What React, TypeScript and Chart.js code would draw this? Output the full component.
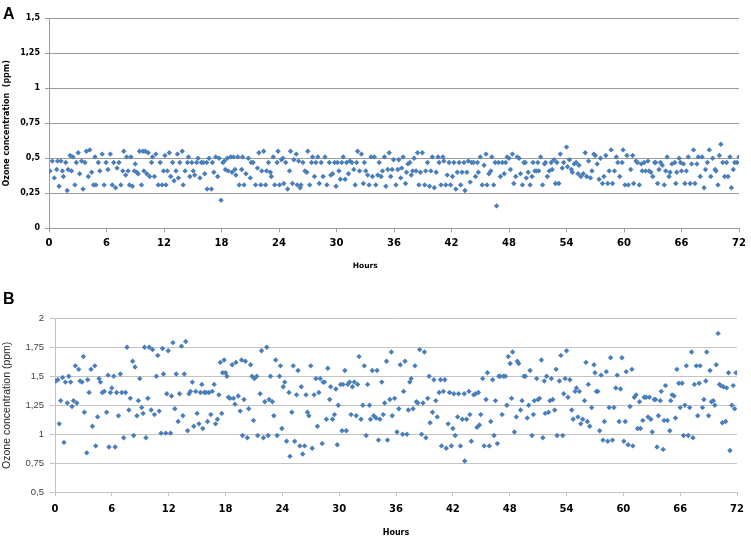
import React, { useEffect, useRef } from "react";
import { Chart, registerables } from "chart.js";

Chart.register(...registerables);

// ---------- Panel A (hours / ozone ppm) ----------
const hoursA1 = [
  0.1, 0.35, 0.55, 0.8, 0.9, 1.05, 1.25, 1.4, 1.5, 1.75,
  1.9, 2.0, 2.2, 2.35, 2.5, 2.7, 2.85, 3.05, 3.2, 3.4,
  3.55, 3.75, 3.9, 4.1, 4.25, 4.45, 4.65, 4.8, 4.9, 5.15,
  5.3, 5.55, 5.75, 5.95, 6.15, 6.4, 6.6, 6.75, 6.95, 7.1,
  7.3, 7.5, 7.7, 7.8, 8.0, 8.1, 8.25, 8.4, 8.55, 8.7,
  8.9, 9.0, 9.15, 9.3, 9.45, 9.65, 9.8, 9.9, 10.05, 10.2,
  10.35, 10.5, 10.7, 10.8, 11.0, 11.15, 11.4, 11.6, 11.8, 11.95,
  12.1, 12.2, 12.35, 12.55, 12.7, 12.9, 13.05, 13.25, 13.4, 13.5,
  13.65, 13.9, 14.0, 14.2, 14.45, 14.55, 14.7, 14.9, 15.05, 15.2,
  15.4, 15.55, 15.75, 15.9, 16.1, 16.25, 16.45, 16.5, 16.7, 16.95,
  17.05, 17.2, 17.4, 17.6, 17.75, 17.95, 18.15,
];
const ozoneA1 = [
  0.41, 0.48, 0.36, 0.42, 0.48, 0.30, 0.48, 0.41, 0.37, 0.47,
  0.27, 0.42, 0.52, 0.41, 0.51, 0.31, 0.47, 0.54, 0.39, 0.48,
  0.28, 0.47, 0.55, 0.37, 0.56, 0.40, 0.31, 0.51, 0.31, 0.47,
  0.41, 0.53, 0.31, 0.47, 0.42, 0.53, 0.31, 0.47, 0.29, 0.43,
  0.47, 0.31, 0.41, 0.55, 0.38, 0.51, 0.41, 0.31, 0.51, 0.30,
  0.41, 0.46, 0.40, 0.39, 0.55, 0.31, 0.55, 0.41, 0.55, 0.39,
  0.54, 0.37, 0.47, 0.51, 0.37, 0.53, 0.31, 0.47, 0.31, 0.41,
  0.52, 0.31, 0.41, 0.54, 0.37, 0.47, 0.34, 0.41, 0.53, 0.36,
  0.47, 0.55, 0.31, 0.41, 0.47, 0.51, 0.37, 0.47, 0.41, 0.38,
  0.47, 0.50, 0.36, 0.47, 0.47, 0.39, 0.47, 0.28, 0.50, 0.28,
  0.47, 0.40, 0.51, 0.37, 0.50, 0.20, 0.47,
];
const hoursA2 = [
  18.3, 18.4, 18.6, 18.7, 18.95, 19.1, 19.25, 19.4, 19.5, 19.7,
  19.85, 20.1, 20.2, 20.35, 20.55, 20.8, 21.0, 21.1, 21.3, 21.55,
  21.75, 21.9, 22.1, 22.2, 22.4, 22.6, 22.7, 22.9, 23.1, 23.2,
  23.4, 23.55, 23.8, 23.9, 24.05, 24.25, 24.4, 24.5, 24.7, 24.9,
  25.1, 25.2, 25.4, 25.55, 25.8, 25.9, 26.05, 26.2, 26.3, 26.5,
  26.7, 26.9, 27.0, 27.2, 27.4, 27.5, 27.7, 27.85, 28.05, 28.2,
  28.4, 28.6, 28.8, 29.0, 29.25, 29.4, 29.6, 29.8, 29.95, 30.1,
  30.25, 30.4, 30.55, 30.7, 30.9, 31.05, 31.25, 31.4, 31.6, 31.8,
  31.95, 32.1, 32.2, 32.4, 32.6, 32.8, 32.9, 33.05, 33.25, 33.4,
  33.6, 33.75, 33.95, 34.1, 34.3, 34.45, 34.65, 34.8, 35.0, 35.15,
  35.35, 35.5, 35.65, 35.8, 35.95, 36.2, 36.4,
];
const ozoneA2 = [
  0.48, 0.42, 0.50, 0.41, 0.51, 0.40, 0.51, 0.42, 0.38, 0.51,
  0.31, 0.42, 0.51, 0.31, 0.39, 0.50, 0.36, 0.47, 0.47, 0.31,
  0.43, 0.54, 0.31, 0.41, 0.55, 0.31, 0.41, 0.47, 0.40, 0.37,
  0.51, 0.31, 0.47, 0.55, 0.31, 0.49, 0.50, 0.32, 0.47, 0.28,
  0.41, 0.55, 0.32, 0.49, 0.53, 0.31, 0.48, 0.29, 0.31, 0.47,
  0.41, 0.40, 0.55, 0.31, 0.47, 0.51, 0.37, 0.47, 0.51, 0.32,
  0.47, 0.37, 0.51, 0.31, 0.47, 0.38, 0.39, 0.47, 0.30, 0.47,
  0.41, 0.35, 0.47, 0.51, 0.35, 0.47, 0.39, 0.48, 0.47, 0.42,
  0.31, 0.47, 0.55, 0.41, 0.53, 0.32, 0.47, 0.41, 0.38, 0.31,
  0.51, 0.37, 0.51, 0.31, 0.38, 0.47, 0.37, 0.41, 0.51, 0.30,
  0.42, 0.54, 0.37, 0.42, 0.49, 0.31, 0.42,
];
const hoursA3 = [
  36.5, 36.7, 36.8, 36.95, 37.2, 37.3, 37.45, 37.65, 37.8, 37.95,
  38.1, 38.3, 38.45, 38.6, 38.75, 38.95, 39.2, 39.3, 39.5, 39.7,
  39.85, 40.0, 40.2, 40.4, 40.6, 40.7, 40.9, 41.1, 41.2, 41.4,
  41.55, 41.75, 41.9, 42.1, 42.25, 42.45, 42.6, 42.8, 42.95, 43.1,
  43.3, 43.4, 43.6, 43.75, 43.95, 44.1, 44.3, 44.5, 44.7, 44.8,
  45.0, 45.2, 45.4, 45.6, 45.7, 45.9, 46.1, 46.2, 46.4, 46.55,
  46.7, 46.9, 47.1, 47.3, 47.5, 47.65, 47.8, 48.0, 48.15, 48.35,
  48.5, 48.7, 48.85, 49.05, 49.2, 49.4, 49.55, 49.7, 49.8, 50.0,
  50.2, 50.4, 50.5, 50.7, 50.85, 51.0, 51.1, 51.3, 51.5, 51.7,
  51.8, 52.0, 52.2, 52.4, 52.5, 52.7, 52.85, 53.0, 53.2, 53.35,
  53.55, 53.7, 54.0, 54.1, 54.3, 54.5,
];
const ozoneA3 = [
  0.49, 0.36, 0.43, 0.51, 0.32, 0.40, 0.46, 0.47, 0.38, 0.41,
  0.50, 0.41, 0.54, 0.31, 0.40, 0.54, 0.31, 0.41, 0.47, 0.30,
  0.41, 0.51, 0.29, 0.40, 0.51, 0.47, 0.31, 0.51, 0.48, 0.31,
  0.38, 0.47, 0.31, 0.37, 0.47, 0.28, 0.40, 0.47, 0.31, 0.40,
  0.47, 0.27, 0.40, 0.48, 0.33, 0.47, 0.47, 0.37, 0.47, 0.40,
  0.51, 0.31, 0.45, 0.53, 0.31, 0.39, 0.41, 0.51, 0.31, 0.47,
  0.16, 0.47, 0.37, 0.47, 0.39, 0.47, 0.51, 0.50, 0.42, 0.53,
  0.32, 0.37, 0.51, 0.50, 0.39, 0.31, 0.47, 0.47, 0.36, 0.40,
  0.31, 0.37, 0.47, 0.41, 0.41, 0.47, 0.41, 0.51, 0.31, 0.46,
  0.47, 0.37, 0.41, 0.47, 0.42, 0.49, 0.32, 0.47, 0.32, 0.53,
  0.43, 0.47, 0.58, 0.44, 0.49, 0.42,
];
const hoursA4 = [
  54.6, 54.8, 55.0, 55.2, 55.3, 55.5, 55.75, 55.95, 56.1, 56.3,
  56.5, 56.65, 56.85, 57.0, 57.2, 57.4, 57.55, 57.75, 57.9, 58.1,
  58.3, 58.45, 58.65, 58.8, 59.0, 59.2, 59.35, 59.55, 59.8, 59.9,
  60.1, 60.3, 60.45, 60.7, 60.9, 61.0, 61.25, 61.4, 61.6, 61.8,
  61.9, 62.1, 62.25, 62.5, 62.6, 62.8, 63.0, 63.2, 63.3, 63.5,
  63.65, 63.8, 64.0, 64.2, 64.35, 64.5, 64.7, 64.8, 65.0, 65.3,
  65.4, 65.5, 65.75, 65.9, 66.0, 66.2, 66.35, 66.5, 66.7, 66.9,
  67.05, 67.25, 67.4, 67.6, 67.75, 67.95, 68.15, 68.35, 68.5, 68.7,
  68.9, 69.05, 69.25, 69.5, 69.6, 69.8, 69.95, 70.1, 70.3, 70.5,
  70.7, 70.85, 71.05, 71.2, 71.4, 71.55, 71.8, 72.0,
];
const ozoneA4 = [
  0.40, 0.46, 0.47, 0.39, 0.45, 0.37, 0.39, 0.54, 0.37, 0.48,
  0.36, 0.41, 0.53, 0.52, 0.46, 0.35, 0.50, 0.32, 0.37, 0.52,
  0.32, 0.41, 0.56, 0.32, 0.41, 0.51, 0.47, 0.37, 0.47, 0.56,
  0.31, 0.52, 0.31, 0.42, 0.52, 0.32, 0.48, 0.47, 0.31, 0.46,
  0.41, 0.47, 0.41, 0.48, 0.41, 0.40, 0.37, 0.47, 0.47, 0.32,
  0.42, 0.47, 0.45, 0.31, 0.41, 0.51, 0.37, 0.40, 0.46, 0.47,
  0.32, 0.40, 0.50, 0.47, 0.41, 0.46, 0.32, 0.41, 0.51, 0.32,
  0.46, 0.56, 0.32, 0.46, 0.51, 0.37, 0.51, 0.29, 0.42, 0.47,
  0.56, 0.37, 0.50, 0.42, 0.41, 0.31, 0.52, 0.60, 0.47, 0.37,
  0.47, 0.37, 0.51, 0.29, 0.42, 0.47, 0.47, 0.51,
];

// ---------- Panel B (hours / ozone ppm) ----------
const hoursB1 = [
  0.1, 0.3, 0.45, 0.6, 0.8, 0.95, 1.1, 1.3, 1.45, 1.65,
  1.8, 1.95, 2.15, 2.3, 2.5, 2.65, 2.85, 3.0, 3.1, 3.35,
  3.45, 3.6, 3.8, 3.95, 4.2, 4.3, 4.5, 4.65, 4.8, 5.0,
  5.2, 5.45, 5.6, 5.7, 5.85, 6.0, 6.2, 6.35, 6.5, 6.7,
  6.9, 7.05, 7.25, 7.45, 7.6, 7.8, 7.95, 8.2, 8.3, 8.45,
  8.65, 8.8, 8.95, 9.15, 9.3, 9.45, 9.6, 9.8, 9.95, 10.15,
  10.3, 10.5, 10.7, 10.85, 11.0, 11.2, 11.35, 11.45, 11.7, 11.8,
  11.95, 12.2, 12.3, 12.45, 12.65, 12.8, 13.0, 13.15, 13.35, 13.5,
  13.65, 13.8, 14.0, 14.15, 14.3, 14.5, 14.65, 14.85, 15.0, 15.2,
  15.35, 15.5, 15.6, 15.75, 15.95, 16.1, 16.25, 16.45, 16.6, 16.8,
  16.95, 17.15, 17.3, 17.45, 17.6, 17.7, 17.85,
];
const ozoneB1 = [
  1.46, 1.47, 1.09, 1.29, 1.49, 0.93, 1.45, 1.27, 1.50, 1.45,
  1.24, 1.29, 1.59, 1.27, 1.56, 1.46, 1.45, 1.67, 1.19, 0.84,
  1.47, 1.36, 1.56, 1.07, 1.59, 0.90, 1.15, 1.48, 1.45, 1.36,
  1.37, 1.19, 1.51, 0.89, 1.36, 1.40, 1.50, 0.89, 1.36, 1.16,
  1.52, 1.36, 0.97, 1.36, 1.75, 1.21, 1.31, 1.63, 0.99, 1.58,
  1.16, 1.29, 1.48, 1.23, 1.18, 1.75, 0.97, 1.31, 1.75, 1.21,
  1.73, 1.17, 1.50, 1.68, 1.20, 1.01, 1.74, 1.52, 1.01, 1.35,
  1.72, 1.01, 1.33, 1.79, 1.22, 1.52, 1.11, 1.35, 1.76, 1.16,
  1.52, 1.80, 1.03, 1.35, 1.37, 1.45, 1.07, 1.37, 1.18, 1.09,
  1.36, 1.43, 1.05, 1.36, 1.36, 1.11, 1.36, 1.17, 1.37, 1.43,
  1.09, 1.13, 1.34, 1.62, 1.18, 1.53, 1.64,
];
const hoursB2 = [
  18.0, 18.15, 18.3, 18.5, 18.7, 18.85, 19.0, 19.1, 19.35, 19.55,
  19.7, 19.8, 19.95, 20.1, 20.3, 20.45, 20.65, 20.8, 20.95, 21.05,
  21.3, 21.4, 21.65, 21.8, 22.0, 22.15, 22.35, 22.5, 22.6, 22.75,
  22.95, 23.1, 23.3, 23.45, 23.7, 23.8, 23.95, 24.1, 24.25, 24.45,
  24.7, 24.8, 25.0, 25.15, 25.3, 25.5, 25.65, 25.85, 26.0, 26.15,
  26.35, 26.5, 26.65, 26.8, 27.0, 27.15, 27.35, 27.55, 27.7, 27.85,
  28.0, 28.2, 28.3, 28.45, 28.65, 28.8, 29.0, 29.1, 29.3, 29.5,
  29.65, 29.8, 29.9, 30.15, 30.3, 30.4, 30.6, 30.75, 30.9, 31.1,
  31.25, 31.4, 31.6, 31.8, 31.95, 32.1, 32.3, 32.5, 32.65, 32.85,
  33.0, 33.2, 33.3, 33.5, 33.65, 33.9, 34.0, 34.15, 34.3, 34.5,
  34.65, 34.8, 35.0, 35.1, 35.35, 35.5, 35.6, 35.85,
];
const ozoneB2 = [
  1.53, 1.50, 1.32, 1.31, 1.60, 1.31, 1.26, 1.62, 1.33, 1.20,
  1.64, 0.99, 1.30, 1.63, 0.97, 1.22, 1.60, 1.50, 1.12, 1.48,
  1.50, 0.99, 1.35, 1.72, 0.97, 1.28, 1.75, 0.99, 1.30, 1.50,
  1.28, 1.16, 1.64, 0.99, 1.50, 1.59, 1.05, 1.41, 1.45, 0.94,
  1.36, 0.81, 1.19, 1.59, 0.94, 1.34, 1.55, 0.90, 1.41, 0.83,
  0.90, 1.34, 1.19, 1.16, 1.59, 0.88, 1.34, 1.48, 1.07, 1.36,
  1.48, 0.92, 1.45, 1.45, 1.13, 1.57, 1.30, 1.41, 1.13, 1.17,
  1.39, 0.91, 1.25, 1.43, 1.03, 1.43, 1.55, 1.03, 1.43, 1.45,
  1.17, 1.41, 1.45, 1.16, 1.43, 1.67, 1.13, 1.25, 1.59, 0.99,
  1.43, 1.25, 1.13, 1.55, 1.16, 1.14, 1.55, 0.95, 1.13, 1.45,
  1.17, 1.27, 1.63, 0.95, 1.30, 1.71, 1.16, 1.31,
];
const hoursB3 = [
  36.1, 36.3, 36.45, 36.7, 36.8, 36.95, 37.15, 37.3, 37.45, 37.6,
  37.8, 38.0, 38.15, 38.3, 38.5, 38.7, 38.85, 39.0, 39.15, 39.35,
  39.5, 39.6, 39.85, 40.0, 40.2, 40.35, 40.55, 40.7, 40.8, 41.0,
  41.15, 41.3, 41.5, 41.65, 41.85, 42.0, 42.1, 42.25, 42.5, 42.6,
  42.8, 43.0, 43.2, 43.25, 43.45, 43.7, 43.8, 43.95, 44.2, 44.4,
  44.55, 44.7, 44.8, 44.95, 45.15, 45.3, 45.5, 45.65, 45.85, 46.0,
  46.2, 46.35, 46.5, 46.7, 46.85, 47.0, 47.2, 47.35, 47.55, 47.7,
  47.85, 48.05, 48.2, 48.3, 48.5, 48.7, 48.8, 48.95, 49.15, 49.3,
  49.5, 49.65, 49.85, 50.0, 50.15, 50.35, 50.5, 50.6, 50.85, 51.0,
  51.15, 51.35, 51.5, 51.65, 51.75, 51.9, 52.1, 52.25, 52.4, 52.55,
  52.75, 52.9, 53.0, 53.25, 53.4, 53.6, 53.7, 53.85, 54.0,
];
const ozoneB3 = [
  1.02, 1.22, 1.60, 1.00, 1.37, 1.63, 1.00, 1.21, 1.45, 1.48,
  1.22, 1.59, 1.28, 1.27, 1.73, 1.00, 1.27, 1.71, 0.97, 1.31,
  1.50, 1.10, 1.19, 1.47, 1.29, 1.15, 1.36, 1.47, 0.90, 1.37,
  1.47, 0.88, 1.09, 1.36, 0.90, 1.05, 1.35, 0.99, 1.15, 1.35,
  0.90, 1.13, 1.35, 0.77, 1.13, 1.37, 1.17, 0.94, 1.34, 1.35,
  1.06, 1.36, 1.08, 1.17, 1.48, 0.90, 1.30, 1.53, 0.90, 1.11,
  1.47, 0.99, 1.29, 0.92, 1.50, 1.50, 1.17, 1.50, 1.50, 1.25,
  1.67, 1.61, 1.31, 1.71, 1.02, 1.15, 1.63, 1.61, 1.21, 1.29,
  1.50, 1.50, 1.14, 1.25, 1.55, 0.99, 1.17, 1.29, 1.48, 1.30,
  1.31, 1.64, 0.97, 1.46, 1.18, 1.50, 1.19, 1.29, 1.48, 1.30,
  1.21, 1.56, 0.99, 1.46, 1.68, 0.99, 1.35, 1.48, 1.72,
];
const hoursB4 = [
  54.15, 54.35, 54.55, 54.7, 54.9, 55.05, 55.2, 55.35, 55.5, 55.7,
  55.9, 56.05, 56.2, 56.3, 56.45, 56.65, 56.9, 57.0, 57.15, 57.3,
  57.5, 57.65, 57.85, 58.0, 58.2, 58.35, 58.5, 58.65, 58.85, 59.0,
  59.2, 59.35, 59.55, 59.7, 59.85, 60.05, 60.2, 60.3, 60.5, 60.7,
  60.9, 61.0, 61.15, 61.35, 61.5, 61.7, 61.8, 62.05, 62.2, 62.4,
  62.6, 62.75, 62.9, 63.05, 63.25, 63.4, 63.55, 63.7, 63.9, 64.0,
  64.2, 64.3, 64.45, 64.65, 64.9, 65.0, 65.15, 65.35, 65.5, 65.65,
  65.85, 66.0, 66.2, 66.35, 66.5, 66.65, 66.85, 67.0, 67.2, 67.35,
  67.5, 67.7, 67.85, 68.0, 68.1, 68.35, 68.5, 68.7, 68.8, 69.0,
  69.15, 69.3, 69.5, 69.65, 69.8, 70.0, 70.15, 70.3, 70.45, 70.55,
  70.8, 70.9, 71.1, 71.25, 71.45, 71.6, 71.75, 71.9,
];
const ozoneB4 = [
  1.32, 1.47, 1.21, 1.13, 1.37, 1.40, 1.15, 1.37, 1.09, 1.13,
  1.29, 1.62, 1.11, 1.43, 1.07, 1.23, 1.60, 1.53, 1.37, 1.37,
  1.03, 1.51, 0.95, 1.11, 1.54, 0.94, 1.23, 1.66, 0.95, 1.23,
  1.40, 1.51, 1.11, 1.39, 1.66, 0.94, 1.11, 1.54, 0.91, 1.24,
  1.56, 0.90, 1.32, 1.34, 1.05, 1.28, 1.05, 1.12, 1.32, 1.32,
  1.15, 1.32, 1.13, 1.02, 1.30, 1.30, 0.89, 1.16, 1.29, 1.37,
  0.87, 1.12, 1.42, 1.12, 1.03, 1.29, 1.34, 1.33, 1.14, 1.56,
  1.44, 1.23, 1.44, 0.99, 1.25, 1.59, 0.99, 1.23, 1.71, 0.97,
  1.43, 1.59, 1.16, 1.44, 1.59, 1.23, 1.30, 1.46, 1.71, 1.16,
  1.55, 1.28, 1.29, 1.25, 1.60, 1.87, 1.43, 1.42, 1.10, 1.41,
  1.11, 1.40, 1.53, 0.86, 1.25, 1.42, 1.22, 1.53,
];

// ---------- Axis ticks ----------
const hourTicks = [0, 6, 12, 18, 24, 30, 36, 42, 48, 54, 60, 66, 72];
const ozoneTicksA = [0, 0.25, 0.5, 0.75, 1, 1.25, 1.5];
const ozoneTicksB = [0.5, 0.75, 1, 1.25, 1.5, 1.75, 2];

const hoursA = [...hoursA1, ...hoursA2, ...hoursA3, ...hoursA4];
const ozoneA = [...ozoneA1, ...ozoneA2, ...ozoneA3, ...ozoneA4];
const hoursB = [...hoursB1, ...hoursB2, ...hoursB3, ...hoursB4];
const ozoneB = [...ozoneB1, ...ozoneB2, ...ozoneB3, ...ozoneB4];

const comma = (v: number) => String(v).replace(".", ",");

const DJ = "'DejaVu Sans', Verdana, sans-serif";
const LS = "'Liberation Sans', Arial, sans-serif";

// Draws the x-axis title at a chosen position along the x scale (panel A's
// "Hours" sits left of centre in the original).
const xTitleAtPlugin = {
  id: "xTitleAt",
  afterDraw(chart: any, _args: any, opts: any) {
    if (!opts || opts.value == null) return;
    const ctx = chart.ctx;
    const x = chart.scales.x.getPixelForValue(opts.value);
    ctx.save();
    ctx.font = opts.font;
    ctx.fillStyle = opts.color || "#000";
    ctx.textAlign = "center";
    ctx.textBaseline = "middle";
    ctx.fillText(opts.text, x, opts.y);
    ctx.restore();
  },
};

type Panel = {
  hours: number[];
  ozone: number[];
  yTicks: number[];
  padTop: number;
  padRight: number;
  yWidth: number;
  xHeight: number;
  gridColor: string;
  yTickFont: any;
  yTickColor: string;
  yTickLen: number;
  yTickPad: number;
  xTickPad: number;
  yTitle: string;
  yTitleFont: any;
  yTitleColor: string;
  yTitlePad: number;
  xTitleFont: any;
  xTitlePad: number;
  xTitleAt: any;
};

function build(canvas: HTMLCanvasElement, p: Panel) {
  const yMin = p.yTicks[0];
  const yMax = p.yTicks[p.yTicks.length - 1];
  return new Chart(canvas, {
    type: "scatter",
    data: {
      datasets: [
        {
          data: p.hours.map((h, i) => ({ x: h, y: p.ozone[i] })),
          pointStyle: "rectRot",
          pointRadius: 2.7,
          backgroundColor: "#4a7ebb",
          borderColor: "#4a7ebb",
          borderWidth: 0,
        },
      ],
    },
    plugins: [xTitleAtPlugin],
    options: {
      animation: false,
      responsive: false,
      devicePixelRatio: 1,
      events: [],
      layout: { padding: { top: p.padTop, right: p.padRight, left: 0, bottom: 0 } },
      plugins: {
        legend: { display: false },
        tooltip: { enabled: false },
        xTitleAt: p.xTitleAt,
      },
      scales: {
        x: {
          type: "linear",
          min: 0,
          max: 72,
          afterBuildTicks: (s: any) => {
            s.ticks = hourTicks.map((v) => ({ value: v }));
          },
          afterFit: (s: any) => {
            s.height = p.xHeight;
          },
          ticks: {
            autoSkip: false,
            maxRotation: 0,
            padding: p.xTickPad,
            color: "#000",
            font: { family: DJ, size: 10, weight: "bold" },
            callback: (v: any) => String(v),
          },
          grid: {
            drawOnChartArea: false,
            drawTicks: true,
            tickLength: 4,
            color: p.gridColor,
          },
          border: { display: true, color: p.gridColor },
          title: {
            display: !p.xTitleAt,
            text: "Hours",
            color: "#000",
            font: p.xTitleFont,
            padding: { top: 0, bottom: p.xTitlePad },
          },
        },
        y: {
          type: "linear",
          min: yMin,
          max: yMax,
          afterBuildTicks: (s: any) => {
            s.ticks = p.yTicks.map((v) => ({ value: v }));
          },
          afterFit: (s: any) => {
            s.width = p.yWidth;
          },
          ticks: {
            autoSkip: false,
            padding: p.yTickPad,
            color: p.yTickColor,
            font: p.yTickFont,
            callback: (v: any) => comma(Number(v)),
          },
          grid: {
            drawTicks: true,
            tickLength: p.yTickLen,
            color: p.gridColor,
          },
          border: { display: true, color: p.gridColor },
          title: {
            display: true,
            text: p.yTitle,
            color: p.yTitleColor,
            font: p.yTitleFont,
            padding: { top: p.yTitlePad, bottom: 0 },
          },
        },
      },
    },
  } as any);
}

const panelA: Panel = {
  hours: hoursA,
  ozone: ozoneA,
  yTicks: ozoneTicksA,
  padTop: 18.3,
  padRight: 10,
  yWidth: 49,
  xHeight: 51.7,
  gridColor: "#9c9c9c",
  yTickFont: { family: DJ, size: 8, weight: "bold" },
  yTickColor: "#000",
  yTickLen: 4,
  yTickPad: 5,
  xTickPad: 5,
  yTitle: "Ozone concentration  (ppm)",
  yTitleFont: { family: DJ, size: 8, weight: "bold" },
  yTitleColor: "#000",
  yTitlePad: 2.2,
  xTitleFont: { family: DJ, size: 7.5, weight: "bold" },
  xTitlePad: 9.8,
  xTitleAt: {
    value: 33,
    y: 266,
    text: "Hours",
    font: "bold 7.5px 'DejaVu Sans', Verdana, sans-serif",
    color: "#000",
  },
};

const panelB: Panel = {
  hours: hoursB,
  ozone: ozoneB,
  yTicks: ozoneTicksB,
  padTop: 38.3,
  padRight: 12,
  yWidth: 55,
  xHeight: 47.7,
  gridColor: "#c4c4c4",
  yTickFont: { family: LS, size: 9.5 },
  yTickColor: "#404040",
  yTickLen: 5,
  yTickPad: 6,
  xTickPad: 7,
  yTitle: "Ozone concentration (ppm)",
  yTitleFont: { family: LS, size: 10.5 },
  yTitleColor: "#262626",
  yTitlePad: 0.7,
  xTitleFont: { family: DJ, size: 8, weight: "bold" },
  xTitlePad: 2.2,
  xTitleAt: null,
};

export default function App() {
  const refA = useRef<HTMLCanvasElement>(null);
  const refB = useRef<HTMLCanvasElement>(null);

  useEffect(() => {
    const a = build(refA.current!, panelA);
    const b = build(refB.current!, panelB);
    return () => {
      a.destroy();
      b.destroy();
    };
  }, []);

  const letter: React.CSSProperties = {
    position: "absolute",
    left: 3,
    fontFamily: LS,
    fontWeight: "bold",
    fontSize: 16,
    lineHeight: "16px",
    color: "#000",
  };

  return (
    <div
      style={{
        position: "absolute",
        left: 0,
        top: 0,
        width: 751,
        height: 540,
        background: "#fff",
        overflow: "hidden",
      }}
    >
      <canvas
        ref={refA}
        width={751}
        height={280}
        style={{ position: "absolute", left: 0, top: 0, width: 751, height: 280 }}
      />
      <canvas
        ref={refB}
        width={751}
        height={260}
        style={{ position: "absolute", left: 0, top: 280, width: 751, height: 260 }}
      />
      <div style={{ ...letter, top: 6 }}>A</div>
      <div style={{ ...letter, top: 291 }}>B</div>
    </div>
  );
}
